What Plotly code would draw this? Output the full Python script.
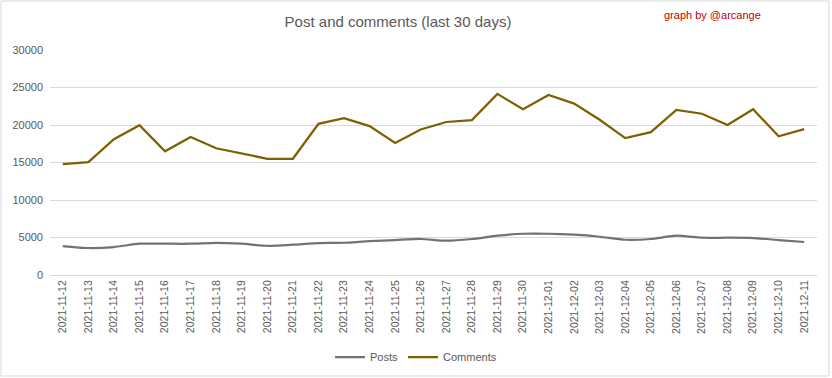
import plotly.graph_objects as go

dates = ["2021-11-12","2021-11-13","2021-11-14","2021-11-15","2021-11-16","2021-11-17",
         "2021-11-18","2021-11-19","2021-11-20","2021-11-21","2021-11-22","2021-11-23",
         "2021-11-24","2021-11-25","2021-11-26","2021-11-27","2021-11-28","2021-11-29",
         "2021-11-30","2021-12-01","2021-12-02","2021-12-03","2021-12-04","2021-12-05",
         "2021-12-06","2021-12-07","2021-12-08","2021-12-09","2021-12-10","2021-12-11"]
posts = [3860, 3600, 3730, 4170, 4170, 4170, 4300, 4170, 3900, 4040, 4260, 4300,
         4530, 4660, 4800, 4570, 4800, 5240, 5500, 5500, 5370, 5100, 4700, 4800,
         5240, 4970, 4970, 4930, 4660, 4400]
comments = [14790, 15050, 18100, 19980, 16500, 18400, 16900, 16250, 15500, 15500, 20150, 20900,
            19850, 17600, 19400, 20400, 20650, 24150, 22100, 24000, 22850, 20700, 18250, 19050,
            22000, 21500, 20000, 22100, 18500, 19450]

FONT = "Liberation Sans"
fig = go.Figure()
fig.add_trace(go.Scatter(x=dates, y=posts, name="Posts", mode="lines",
                         line=dict(color="#767171", width=2.25, shape="spline", smoothing=0.6)))
fig.add_trace(go.Scatter(x=dates, y=comments, name="Comments", mode="lines",
                         line=dict(color="#7F6000", width=2.25)))

L, R, T, B = 50, 15, 50, 103
W, H = 832, 378
pw, ph = W - L - R, H - T - B

def px(x):
    return (x - L) / pw

def py(y):
    return (H - B - y) / ph

fig.update_layout(
    width=W, height=H,
    margin=dict(l=L, r=R, t=T, b=B, autoexpand=False),
    paper_bgcolor="white", plot_bgcolor="white",
    font=dict(family=FONT, color="#595959", size=11),
    title=dict(text="Post and comments (last 30 days)", x=px(398), xanchor="center",
               xref="paper", y=1 - 22 / H, yanchor="middle",
               font=dict(family=FONT, size=15, color="#595959")),
    showlegend=True,
    legend=dict(orientation="h", x=px(416), xanchor="center", y=py(357), yanchor="middle",
                font=dict(family=FONT, size=11, color="#595959"), itemwidth=30),
    xaxis=dict(type="category", range=[-0.5, len(dates) - 0.5], tickangle=-90,
               showgrid=False, showline=True, linecolor="#D9D9D9", ticks="",
               automargin=False,
               tickfont=dict(family=FONT, size=10.5, color="#595959")),
    yaxis=dict(range=[0, 30000], dtick=5000, showgrid=True, gridcolor="#D9D9D9",
               zeroline=False, showline=False, ticks="", tickformat="d",
               automargin=False, ticklabelstandoff=6,
               tickfont=dict(family=FONT, size=11, color="#595959")),
    shapes=[dict(type="rect", xref="paper", yref="paper",
                 x0=px(1), x1=px(829), y0=py(376), y1=py(1),
                 line=dict(color="#D9D9D9", width=1), fillcolor="rgba(0,0,0,0)", layer="below")],
    annotations=[dict(text="graph by @arcange", xref="paper", yref="paper",
                      x=px(763), y=py(15), xanchor="right", yanchor="middle", showarrow=False,
                      font=dict(family=FONT, size=11, color="#C00000"))],
)

fig.write_html("out.html", config={"displayModeBar": False},
               post_script="document.body.style.margin='0px';")
